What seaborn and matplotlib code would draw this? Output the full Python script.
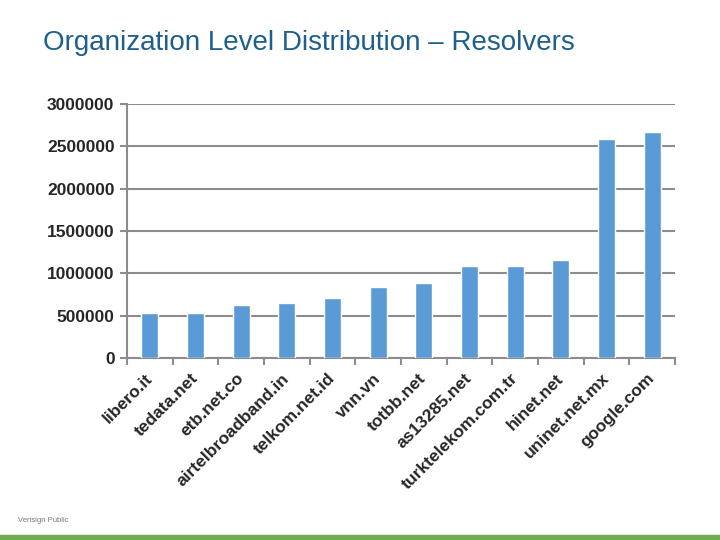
import matplotlib
matplotlib.use("Agg")
import matplotlib.pyplot as plt
import seaborn as sns
import pandas as pd
from matplotlib.patches import Rectangle

categories = ["libero.it", "tedata.net", "etb.net.co", "airtelbroadband.in",
              "telkom.net.id", "vnn.vn", "totbb.net", "as13285.net",
              "turktelekom.com.tr", "hinet.net", "uninet.net.mx", "google.com"]
values = [535000, 530000, 626000, 653000, 709000, 842000, 882000,
          1090000, 1090000, 1157000, 2583000, 2669000]
yticks = [0, 500000, 1000000, 1500000, 2000000, 2500000, 3000000]

sns.set_theme(style="white")
plt.rcParams['font.family'] = ['Liberation Sans', 'DejaVu Sans']

df = pd.DataFrame({"org": categories, "count": values})

fig = plt.figure(figsize=(7.2, 5.4), dpi=100)
ax = fig.add_axes([127/720, 1 - 358/540, (675-127)/720, (358-104)/540])

sns.barplot(data=df, x="org", y="count", color="#5B9BD5", width=0.37,
            saturation=1, ax=ax, zorder=3)

ax.set_ylim(0, 3000000)
ax.set_xlim(-0.5, len(categories) - 0.5)
ax.set_yticks(yticks)
ax.set_yticklabels([str(v) for v in yticks], fontsize=12.5, fontweight="bold")
ax.yaxis.grid(True, color="#8c8c8c", linewidth=1.5, zorder=0)
ax.set_axisbelow(True)
ax.set_xlabel("")
ax.set_ylabel("")

for s in ["top", "right"]:
    ax.spines[s].set_visible(False)
for s in ["left", "bottom"]:
    ax.spines[s].set_color("#8c8c8c")
    ax.spines[s].set_linewidth(1.5)

# tick marks
ax.tick_params(axis="y", which="both", left=True, length=5, width=1.5,
               color="#8c8c8c", pad=4)
ax.set_xticks(range(len(categories)))
ax.set_xticklabels(categories, rotation=45, ha="right", rotation_mode="anchor",
                   va="center", fontsize=12.5, fontweight="bold")
ax.tick_params(axis="x", which="major", length=0, pad=13)
ax.set_xticks([i - 0.5 for i in range(len(categories) + 1)], minor=True)
ax.tick_params(axis="x", which="minor", bottom=True, length=5, width=1.5,
               color="#8c8c8c")

fig.text(43/720, 1 - 43/540, "Organization Level Distribution – Resolvers",
         fontsize=20, color="#1F5F8B", va="center", ha="left")
fig.text(18/720, 1 - 521/540, "Verisign Public", fontsize=5.5, color="#777777",
         va="center", ha="left")
fig.patches.append(Rectangle((0, 0), 1, 5/540, transform=fig.transFigure,
                             color="#70AD50", zorder=10))

fig.savefig("out.png", dpi=100)
